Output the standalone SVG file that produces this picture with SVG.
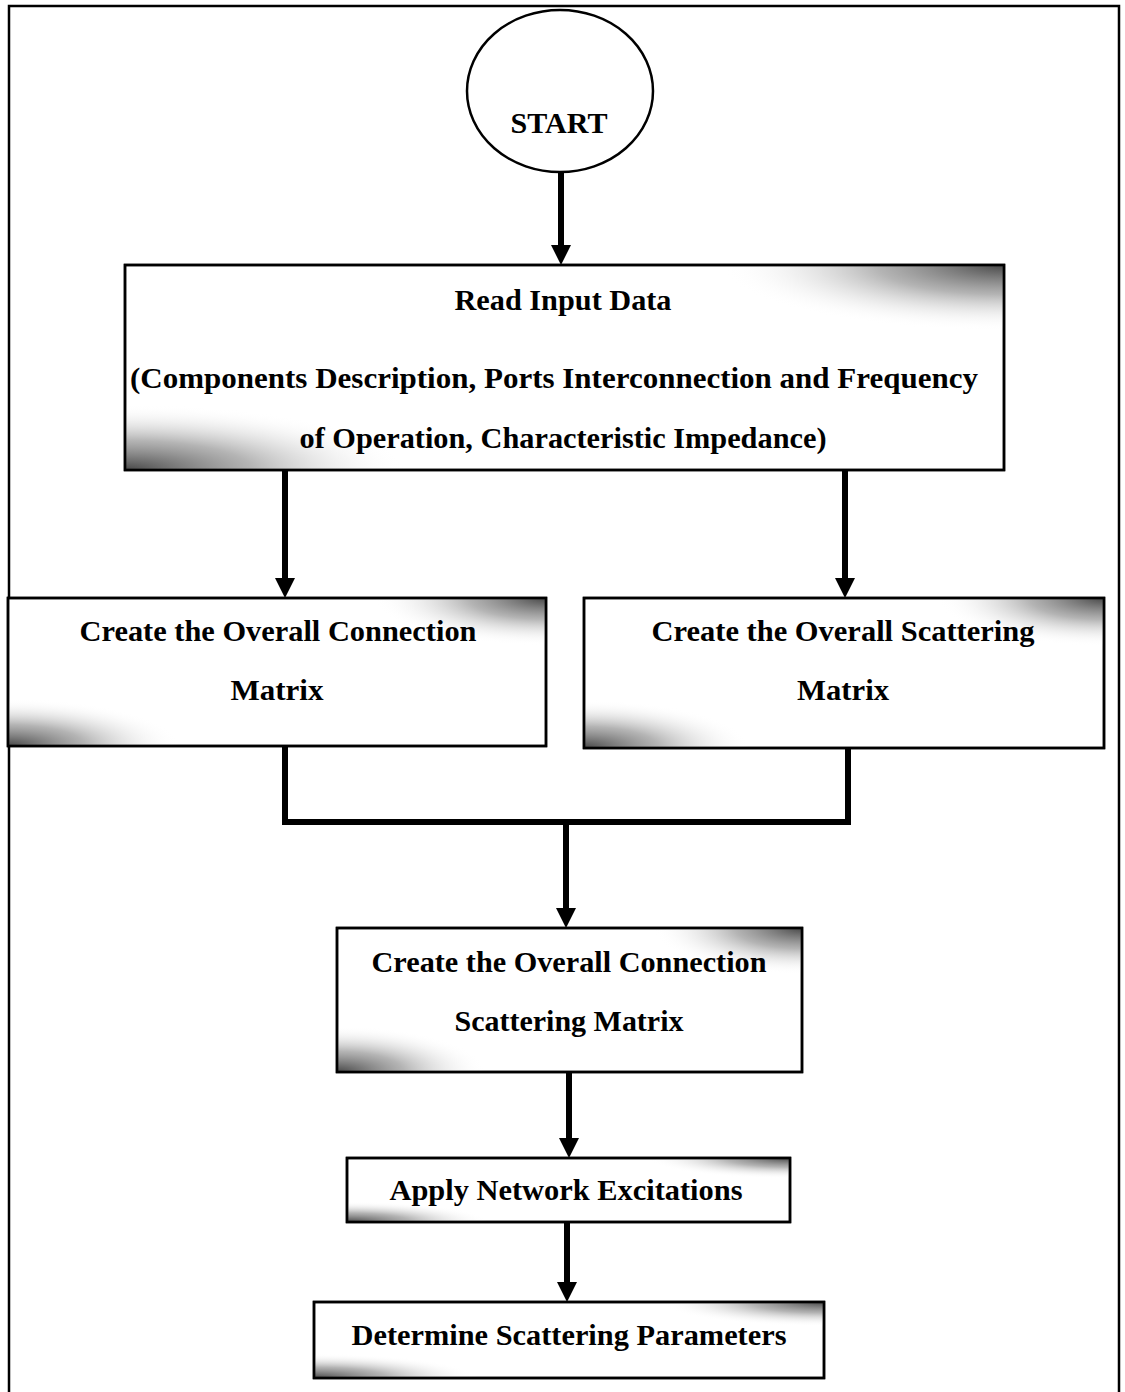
<svg xmlns="http://www.w3.org/2000/svg" width="1125" height="1392" viewBox="0 0 1125 1392">
  <style>
    .box { fill: #ffffff; stroke: #000000; stroke-width: 2.5; }
    .shade { stroke: none; }
    .lbl { font-family: "Liberation Serif", "Times New Roman", serif; font-weight: bold; font-size: 30px; fill: #000000; text-anchor: middle; }
    .conn { fill: none; stroke: #000000; stroke-width: 6; }
    .frame { fill: none; stroke: #000000; stroke-width: 2.5; }
  </style>
  <defs>
    <radialGradient id="gTR" cx="1" cy="0" r="0.32" gradientUnits="objectBoundingBox">
      <stop offset="0" stop-color="#333333" stop-opacity="0.9"/>
      <stop offset="0.45" stop-color="#777777" stop-opacity="0.55"/>
      <stop offset="1" stop-color="#ffffff" stop-opacity="0"/>
    </radialGradient>
    <radialGradient id="gBL" cx="0" cy="1" r="0.32" gradientUnits="objectBoundingBox">
      <stop offset="0" stop-color="#333333" stop-opacity="0.9"/>
      <stop offset="0.45" stop-color="#777777" stop-opacity="0.55"/>
      <stop offset="1" stop-color="#ffffff" stop-opacity="0"/>
    </radialGradient>
    <marker id="ah" viewBox="0 0 20 20" refX="0" refY="10" markerWidth="20" markerHeight="20" markerUnits="userSpaceOnUse" orient="auto">
      <path d="M0,0 L20,10 L0,20 z" fill="#000000"/>
    </marker>
  </defs>

  <rect x="0" y="0" width="1125" height="1392" fill="#ffffff"/>
  <path class="frame" d="M9,1392 V6 H1119 V1392"/>

  <g id="connectors">
    <line class="conn" x1="561" y1="172" x2="561" y2="245" marker-end="url(#ah)"/>
    <line class="conn" x1="285" y1="470" x2="285" y2="578" marker-end="url(#ah)"/>
    <line class="conn" x1="845" y1="470" x2="845" y2="578" marker-end="url(#ah)"/>
    <path class="conn" d="M285,746 V822 H848 V748"/>
    <line class="conn" x1="566" y1="822" x2="566" y2="908" marker-end="url(#ah)"/>
    <line class="conn" x1="569" y1="1072" x2="569" y2="1138" marker-end="url(#ah)"/>
    <line class="conn" x1="567" y1="1222" x2="567" y2="1282" marker-end="url(#ah)"/>
  </g>

  <g id="start">
    <ellipse cx="560" cy="91" rx="93" ry="81" fill="#ffffff" stroke="#000000" stroke-width="2.5"/>
    <text class="lbl" x="559" y="133" textLength="97" lengthAdjust="spacingAndGlyphs">START</text>
  </g>

  <g id="read-input">
    <rect class="box" x="125" y="265" width="879" height="205"/>
    <rect class="shade" x="125" y="265" width="879" height="205" fill="url(#gTR)"/>
    <rect class="shade" x="125" y="265" width="879" height="205" fill="url(#gBL)"/>
    <rect x="125" y="265" width="879" height="205" fill="none" stroke="#000" stroke-width="2.5"/>
    <text class="lbl" x="563" y="310" textLength="217" lengthAdjust="spacingAndGlyphs">Read Input Data</text>
    <text class="lbl" x="554" y="388" textLength="848" lengthAdjust="spacingAndGlyphs">(Components Description, Ports Interconnection and Frequency</text>
    <text class="lbl" x="563" y="448" textLength="527" lengthAdjust="spacingAndGlyphs">of Operation, Characteristic Impedance)</text>
  </g>

  <g id="connection-matrix">
    <rect class="box" x="8" y="598" width="538" height="148"/>
    <rect class="shade" x="8" y="598" width="538" height="148" fill="url(#gTR)"/>
    <rect class="shade" x="8" y="598" width="538" height="148" fill="url(#gBL)"/>
    <rect x="8" y="598" width="538" height="148" fill="none" stroke="#000" stroke-width="2.5"/>
    <text class="lbl" x="278" y="641" textLength="397" lengthAdjust="spacingAndGlyphs">Create the Overall Connection</text>
    <text class="lbl" x="277" y="700" textLength="93" lengthAdjust="spacingAndGlyphs">Matrix</text>
  </g>

  <g id="scattering-matrix">
    <rect class="box" x="584" y="598" width="520" height="150"/>
    <rect class="shade" x="584" y="598" width="520" height="150" fill="url(#gTR)"/>
    <rect class="shade" x="584" y="598" width="520" height="150" fill="url(#gBL)"/>
    <rect x="584" y="598" width="520" height="150" fill="none" stroke="#000" stroke-width="2.5"/>
    <text class="lbl" x="843" y="641" textLength="383" lengthAdjust="spacingAndGlyphs">Create the Overall Scattering</text>
    <text class="lbl" x="843" y="700" textLength="92" lengthAdjust="spacingAndGlyphs">Matrix</text>
  </g>

  <g id="connection-scattering-matrix">
    <rect class="box" x="337" y="928" width="465" height="144"/>
    <rect class="shade" x="337" y="928" width="465" height="144" fill="url(#gTR)"/>
    <rect class="shade" x="337" y="928" width="465" height="144" fill="url(#gBL)"/>
    <rect x="337" y="928" width="465" height="144" fill="none" stroke="#000" stroke-width="2.5"/>
    <text class="lbl" x="569" y="972" textLength="395" lengthAdjust="spacingAndGlyphs">Create the Overall Connection</text>
    <text class="lbl" x="569" y="1031" textLength="229" lengthAdjust="spacingAndGlyphs">Scattering Matrix</text>
  </g>

  <g id="network-excitations">
    <rect class="box" x="347" y="1158" width="443" height="64"/>
    <rect class="shade" x="347" y="1158" width="443" height="64" fill="url(#gTR)"/>
    <rect class="shade" x="347" y="1158" width="443" height="64" fill="url(#gBL)"/>
    <rect x="347" y="1158" width="443" height="64" fill="none" stroke="#000" stroke-width="2.5"/>
    <text class="lbl" x="566" y="1200" textLength="353" lengthAdjust="spacingAndGlyphs">Apply Network Excitations</text>
  </g>

  <g id="scattering-parameters">
    <rect class="box" x="314" y="1302" width="510" height="76"/>
    <rect class="shade" x="314" y="1302" width="510" height="76" fill="url(#gTR)"/>
    <rect class="shade" x="314" y="1302" width="510" height="76" fill="url(#gBL)"/>
    <rect x="314" y="1302" width="510" height="76" fill="none" stroke="#000" stroke-width="2.5"/>
    <text class="lbl" x="569" y="1345" textLength="435" lengthAdjust="spacingAndGlyphs">Determine Scattering Parameters</text>
  </g>
</svg>
